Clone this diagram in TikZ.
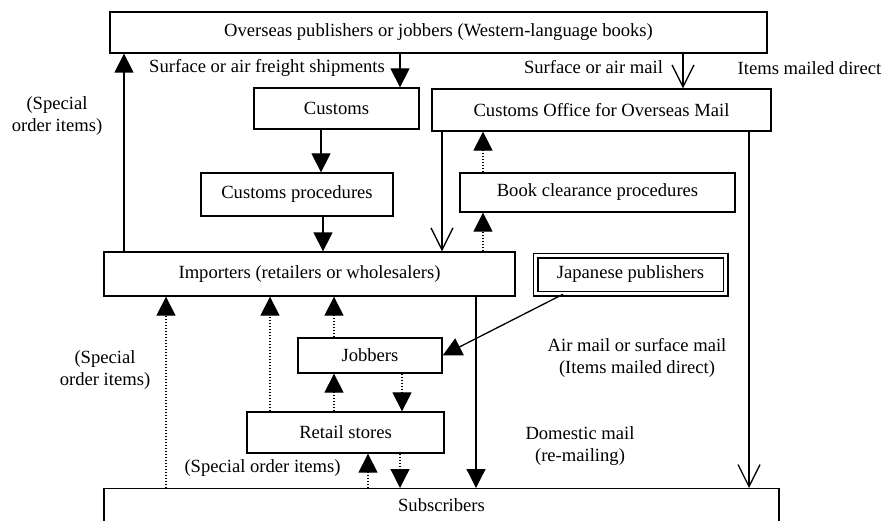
\documentclass[tikz,border=0pt]{standalone}
\usepackage{fontspec}
\setmainfont{Liberation Serif}
\usetikzlibrary{arrows.meta,calc}
\begin{document}
\begin{tikzpicture}[x=1pt,y=-1pt,
  every node/.style={font=\fontsize{18.6}{22}\selectfont},
  box/.style={draw,line width=1.3pt,inner sep=0pt},
  lbl/.style={align=center,inner sep=0pt},
  ln/.style={line width=1.3pt},
  fa/.style={ln,-{Triangle[width=19pt,length=19pt]}},
  oa/.style={ln,-{Straight Barb[width=22pt,length=22pt]}},
  dt/.style={line width=1.2pt,dash pattern=on 1.2pt off 1.8pt,-{Triangle[width=19pt,length=19pt]}},
]
\useasboundingbox (0,0) rectangle (882,521);
\clip (0,0) rectangle (882,521);

% boxes
\node[box,minimum width=657pt,minimum height=41pt] (top) at (438.5,32.5) {Overseas publishers or jobbers (Western-language books)};
\node[box,minimum width=165pt,minimum height=41pt] (customs) at (336.5,108.5) {Customs};
\node[box,minimum width=339pt,minimum height=42pt] (office) at (601.5,110) {Customs Office for Overseas Mail};
\node[box,minimum width=192pt,minimum height=43pt] (proc) at (297,194.5) {Customs procedures};
\node[box,minimum width=275pt,minimum height=39pt] (book) at (597.5,192.5) {Book clearance procedures};
\node[box,minimum width=411pt,minimum height=44pt] (imp) at (309.5,274) {Importers (retailers or wholesalers)};
\node[draw,double,double distance=3pt,line width=1.5pt,inner sep=0pt,minimum width=190pt,minimum height=38pt] (jp) at (630.5,274.5) {Japanese publishers};
\node[box,minimum width=144pt,minimum height=35pt] (job) at (370,355.5) {Jobbers};
\node[box,minimum width=197pt,minimum height=41pt] (ret) at (345.5,432.5) {Retail stores};
\node[box,minimum width=675pt,anchor=north,text height=23pt,text depth=50pt] (sub) at (441.5,488) {Subscribers};

% labels
\node[lbl] (l1) at (267,68) {Surface or air freight shipments};
\node[lbl] (l2) at (593.5,67) {Surface or air mail};
\node[lbl] (l3) at (809.5,68) {Items mailed direct};
\node[lbl] (l4) at (57,116) {(Special\\order items)};
\node[lbl] (l5) at (105,370) {(Special\\order items)};
\node[lbl] (l6) at (637,357.5) {Air mail or surface mail\\(Items mailed direct)};
\node[lbl] (l7) at (580,446.5) {Domestic mail\\(re-mailing)};
\node[lbl] (l8) at (262.5,468) {(Special order items)};

% x positions
\coordinate (xa) at (124,0);
\coordinate (xb) at (400,0);
\coordinate (xc) at (683,0);
\coordinate (xd) at (321,0);
\coordinate (xe) at (323,0);
\coordinate (xf) at (442,0);
\coordinate (xg) at (749,0);
\coordinate (xh) at (483,0);
\coordinate (xi) at (166,0);
\coordinate (xk) at (270,0);
\coordinate (xl) at (334,0);
\coordinate (xj) at (563,0);
\coordinate (xm) at (476,0);
\coordinate (xn) at (402,0);
\coordinate (xo) at (368,0);
\coordinate (xp) at (400,0);

% connectors
\draw[fa] (imp.north -| xa) -- (top.south -| xa);
\draw[fa] (top.south -| xb) -- (customs.north -| xb);
\draw[oa] (top.south -| xc) -- (office.north -| xc);
\draw[fa] (customs.south -| xd) -- (proc.north -| xd);
\draw[fa] (proc.south -| xe) -- (imp.north -| xe);
\draw[oa] (office.south -| xf) -- (imp.north -| xf);
\draw[oa] (office.south -| xg) -- (sub.north -| xg);
\draw[dt] (book.north -| xh) -- (office.south -| xh);
\draw[dt] (imp.north -| xh) -- (book.south -| xh);
\draw[dt] (sub.north -| xi) -- (imp.south -| xi);
\draw[dt] (ret.north -| xk) -- (imp.south -| xk);
\draw[dt] (job.north -| xl) -- (imp.south -| xl);
\draw[fa] (jp.south -| xj) -- (job.east);
\draw[fa] (imp.south -| xm) -- (sub.north -| xm);
\draw[dt] (ret.north -| xl) -- (job.south -| xl);
\draw[dt] (job.south -| xn) -- (ret.north -| xn);
\draw[dt] (sub.north -| xo) -- (ret.south -| xo);
\draw[dt] (ret.south -| xp) -- (sub.north -| xp);
\end{tikzpicture}
\end{document}
